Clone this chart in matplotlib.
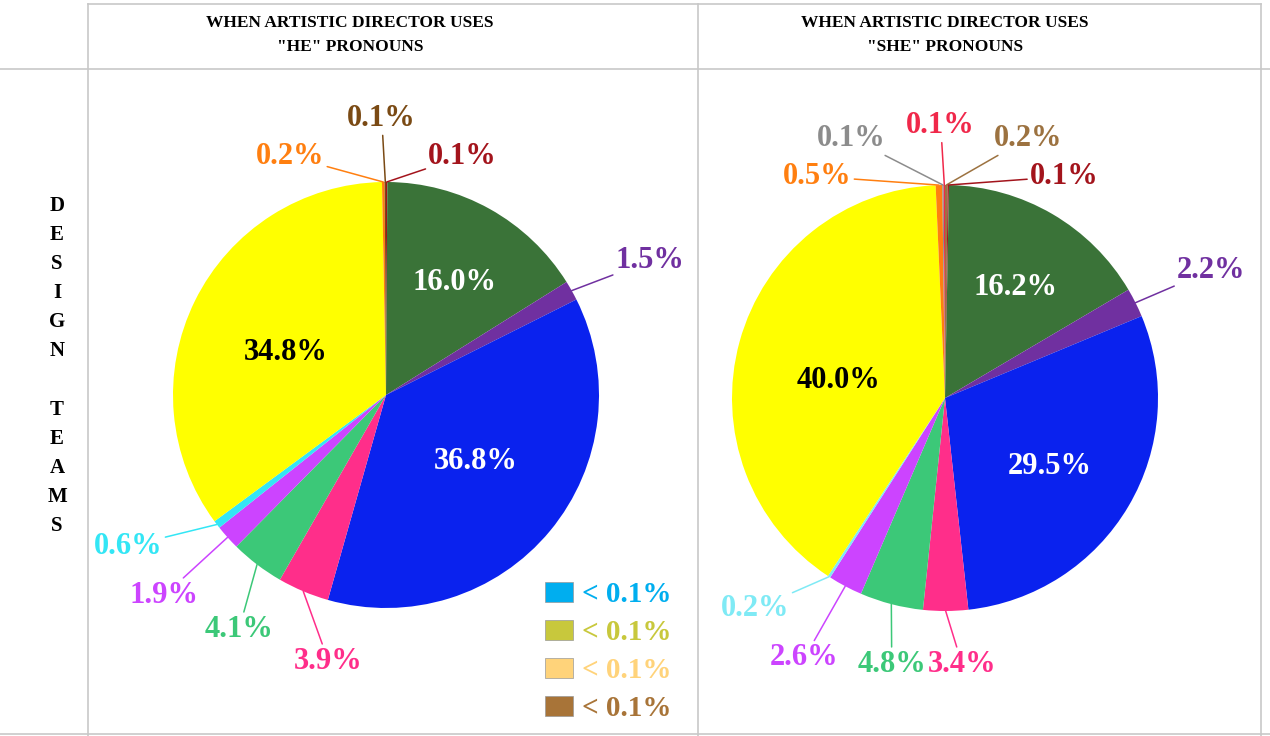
import numpy as np
import matplotlib.pyplot as plt
from matplotlib.lines import Line2D
from matplotlib.patches import Patch

# ---- data (clockwise from 12 o'clock) ----
he_values = [0.1, 16.0, 1.5, 36.8, 3.9, 4.1, 1.9, 0.6, 34.8, 0.2, 0.1]
he_labels = ['0.1%', '16.0%', '1.5%', '36.8%', '3.9%', '4.1%', '1.9%', '0.6%', '34.8%', '0.2%', '0.1%']
he_colors = ['#A3141C', '#3A7338', '#7030A0', '#0A22EE', '#FF2E8A', '#3CC878',
             '#CC44FF', '#33E6F5', '#FFFF00', '#FF7F10', '#7A4A14']

she_values = [0.2, 0.1, 16.2, 2.2, 29.5, 3.4, 4.8, 2.6, 0.2, 40.0, 0.5, 0.1, 0.1]
she_labels = ['0.2%', '0.1%', '16.2%', '2.2%', '29.5%', '3.4%', '4.8%', '2.6%', '0.2%',
              '40.0%', '0.5%', '0.1%', '0.1%']
she_colors = ['#9C7240', '#A3141C', '#3A7338', '#7030A0', '#0A22EE', '#FF2E8A', '#3CC878',
              '#CC44FF', '#7FEAF5', '#FFFF00', '#FF7F10', '#8C8C8C', '#F0284A']

tiny_labels = ['< 0.1%', '< 0.1%', '< 0.1%', '< 0.1%']
tiny_colors = ['#00AEEF', '#C8C83C', '#FFD37A', '#A87438']

titles = ['WHEN ARTISTIC DIRECTOR USES\n"HE" PRONOUNS',
          'WHEN ARTISTIC DIRECTOR USES\n"SHE" PRONOUNS']
row_label = 'DESIGN TEAMS'

# ---- layout (label positions in pie radius units) ----
he_label_pos = [(0.36, 1.12), (0.32, 0.53), (1.24, 0.63), (0.42, -0.31), (-0.27, -1.25),
                (-0.69, -1.10), (-1.04, -0.94), (-1.21, -0.71), (-0.47, 0.20),
                (-0.45, 1.12), (-0.02, 1.30)]
she_label_pos = [(0.39, 1.22), (0.56, 1.04), (0.33, 0.52), (1.25, 0.60), (0.49, -0.32),
                 (0.08, -1.25), (-0.25, -1.25), (-0.66, -1.22), (-0.89, -0.99),
                 (-0.50, 0.08), (-0.60, 1.04), (-0.44, 1.22), (-0.02, 1.28)]
he_inside = [1, 3, 8]
she_inside = [2, 4, 9]
inside_colors = {'#FFFF00': 'black'}

W, H = 1270, 736
fig = plt.figure(figsize=(W / 100, H / 100), dpi=100)
fig.patch.set_facecolor('white')
serif = ['Liberation Serif', 'DejaVu Serif']

# table grid lines (pixel coords -> figure fraction)
grid_col = '#C8C8C8'
def hline(y, x0, x1):
    fig.add_artist(Line2D([x0 / W, x1 / W], [1 - y / H, 1 - y / H], color=grid_col, lw=1.2))
def vline(x, y0, y1):
    fig.add_artist(Line2D([x / W, x / W], [1 - y0 / H, 1 - y1 / H], color=grid_col, lw=1.2))

hline(4, 88, 1261)
hline(69, 0, 1270)
hline(734, 0, 1270)
vline(88, 4, 736)
vline(698, 4, 736)
vline(1261, 4, 736)

# column titles
for t, xc in zip(titles, [350, 945]):
    fig.text(xc / W, 1 - 35 / H, t, ha='center', va='center', fontsize=12.5,
             fontweight='bold', family=serif, linespacing=1.6)

# vertical row label
fig.text(57 / W, 1 - 366 / H, '\n'.join(row_label), ha='center', va='center',
         fontsize=15, fontweight='bold', family=serif, linespacing=1.61)

R = 213.0
def make_pie(cx, cy, x0, x1, y0, y1, values, labels, colors, pos, inside):
    ax = fig.add_axes([x0 / W, 1 - y1 / H, (x1 - x0) / W, (y1 - y0) / H])
    wedges, _ = ax.pie(values, colors=colors, startangle=90, counterclock=False,
                       radius=1, wedgeprops=dict(linewidth=0))
    ax.set_xlim((x0 - cx) / R, (x1 - cx) / R)
    ax.set_ylim((cy - y1) / R, (cy - y0) / R)
    ax.set_aspect('auto')
    ax.axis('off')
    for i, (w, lab, (lx, ly)) in enumerate(zip(wedges, labels, pos)):
        col = colors[i]
        if i in inside:
            ax.text(lx, ly, lab, ha='center', va='center', fontsize=22, fontweight='bold',
                    family=serif, color=inside_colors.get(col, 'white'))
        else:
            ang = np.deg2rad((w.theta1 + w.theta2) / 2)
            ax.annotate(lab, xy=(np.cos(ang), np.sin(ang)), xytext=(lx, ly),
                        ha='center', va='center', fontsize=22, fontweight='bold',
                        family=serif, color=col,
                        arrowprops=dict(arrowstyle='-', color=col, lw=1.1,
                                        shrinkA=0, shrinkB=0))
    return ax

ax1 = make_pie(386, 395, 88, 698, 69, 734, he_values, he_labels, he_colors,
               he_label_pos, he_inside)
ax2 = make_pie(945, 398, 698, 1261, 69, 734, she_values, she_labels, she_colors,
               she_label_pos, she_inside)

# legend for the very small categories
handles = [Patch(facecolor=c, edgecolor='#999999', lw=0.5) for c in tiny_colors]
leg = ax1.legend(handles, tiny_labels, loc='lower right', bbox_to_anchor=(0.975, 0.0),
                 bbox_transform=ax1.transAxes, frameon=False, handlelength=0.95,
                 handleheight=0.7, handletextpad=0.3, labelspacing=0.38,
                 prop=dict(family=serif, size=21, weight='bold'), borderaxespad=0.0)
for txt, c in zip(leg.get_texts(), tiny_colors):
    txt.set_color(c)

fig.savefig('out.png', dpi=100, facecolor='white')
